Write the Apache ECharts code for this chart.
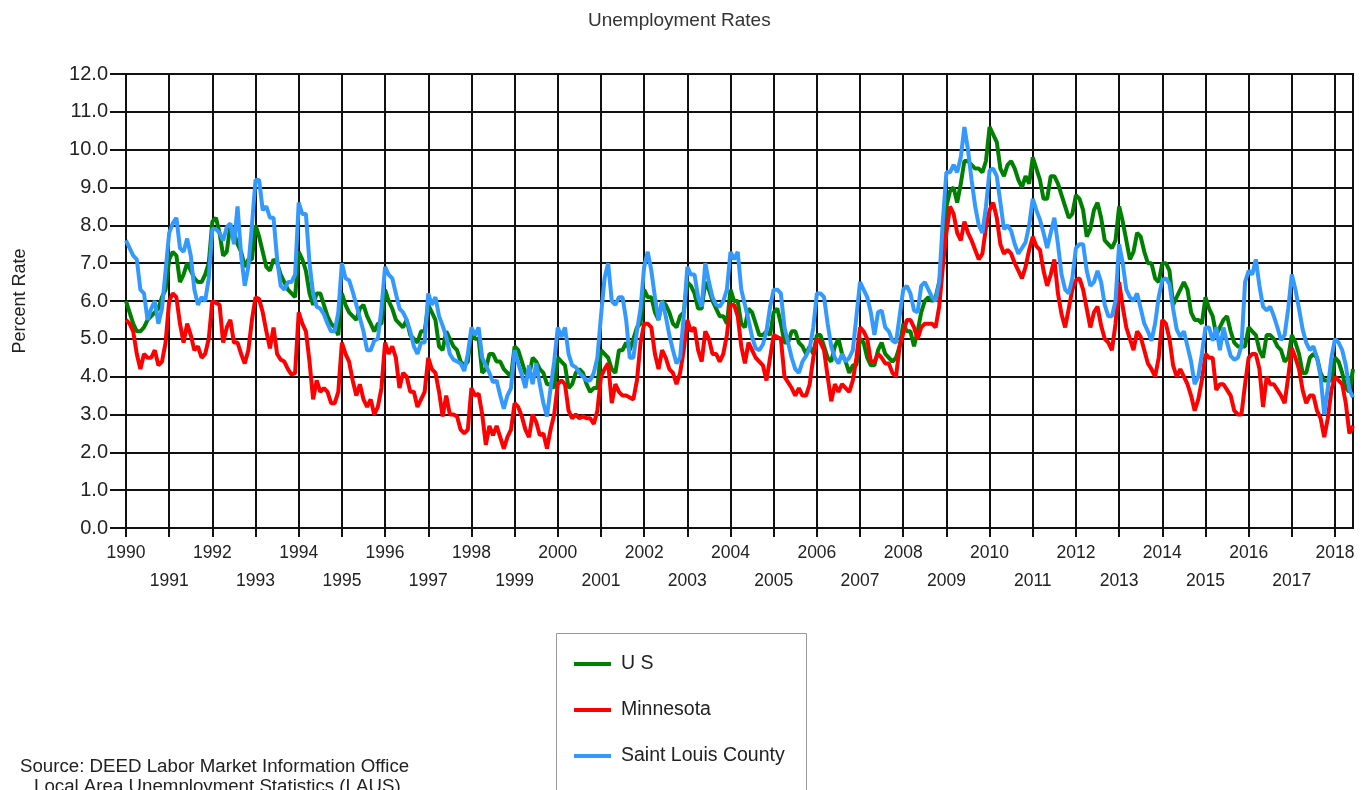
<!DOCTYPE html>
<html>
<head>
<meta charset="utf-8">
<title>Unemployment Rates</title>
<script src="https://cdn.jsdelivr.net/npm/echarts@6/dist/echarts.min.js"></script>
<style>
  html, body { margin: 0; padding: 0; background: #fff; }
  #chart { width: 1369px; height: 790px; }
</style>
</head>
<body>
<div id="chart"></div>
<script>
// monthly unemployment rate, not seasonally adjusted, Jan 1990 - Jun 2018
// one row per year
var usRates = [
  6.0, 5.7, 5.4, 5.2, 5.2, 5.3, 5.5, 5.6, 5.7, 5.8, 6.1, 6.3,
  7.1, 7.3, 7.2, 6.5, 6.7, 7.0, 6.8, 6.6, 6.5, 6.5, 6.7, 7.0,
  8.1, 8.2, 7.8, 7.2, 7.3, 8.0, 7.8, 7.5, 7.3, 6.9, 7.1, 7.1,
  8.0, 7.7, 7.3, 6.9, 6.8, 7.1, 7.0, 6.7, 6.5, 6.3, 6.2, 6.1,
  7.3, 7.1, 6.8, 6.2, 5.9, 6.2, 6.2, 5.9, 5.6, 5.4, 5.3, 5.1,
  6.2, 5.9, 5.7, 5.6, 5.5, 5.8, 5.9, 5.6, 5.4, 5.2, 5.4, 5.4,
  6.3, 6.0, 5.8, 5.5, 5.4, 5.3, 5.5, 5.1, 5.0, 4.9, 5.2, 5.2,
  5.9, 5.7, 5.5, 4.8, 4.7, 5.2, 5.0, 4.8, 4.7, 4.4, 4.3, 4.4,
  5.2, 5.0, 5.0, 4.1, 4.2, 4.6, 4.6, 4.4, 4.4, 4.2, 4.1, 4.0,
  4.8, 4.7, 4.4, 4.1, 4.0, 4.5, 4.4, 4.2, 4.1, 3.8, 3.8, 3.7,
  4.5, 4.4, 4.3, 3.7, 3.8, 4.1, 4.2, 4.1, 3.8, 3.6, 3.7, 3.7,
  4.7, 4.6, 4.5, 4.2, 4.1, 4.7, 4.7, 4.9, 4.7, 5.0, 5.3, 5.4,
  6.3, 6.1, 6.1, 5.7, 5.5, 6.0, 5.9, 5.7, 5.4, 5.3, 5.6, 5.7,
  6.5, 6.4, 6.2, 5.8, 5.8, 6.5, 6.3, 6.0, 5.8, 5.6, 5.6, 5.4,
  6.3, 6.0, 6.0, 5.4, 5.3, 5.8, 5.7, 5.4, 5.1, 5.1, 5.2, 5.1,
  5.7, 5.8, 5.4, 4.9, 4.9, 5.2, 5.2, 4.9, 4.8, 4.6, 4.8, 4.6,
  5.1, 5.1, 4.8, 4.5, 4.4, 4.8, 5.0, 4.6, 4.4, 4.1, 4.3, 4.3,
  5.0, 4.9, 4.5, 4.3, 4.3, 4.7, 4.9, 4.6, 4.5, 4.4, 4.5, 4.8,
  5.4, 5.2, 5.2, 4.8, 5.2, 5.7, 6.0, 6.1, 6.0, 6.1, 6.5, 7.1,
  8.5, 8.9, 9.0, 8.6, 9.1, 9.7, 9.7, 9.6, 9.5, 9.5, 9.4, 9.7,
  10.6, 10.4, 10.2, 9.5, 9.3, 9.6, 9.7, 9.5, 9.2, 9.0, 9.3, 9.1,
  9.8, 9.5, 9.2, 8.7, 8.7, 9.3, 9.3, 9.1, 8.8, 8.5, 8.2, 8.3,
  8.8, 8.7, 8.4, 7.7, 7.9, 8.4, 8.6, 8.2, 7.6, 7.5, 7.4, 7.6,
  8.5, 8.1, 7.6, 7.1, 7.3, 7.8, 7.7, 7.3, 7.0, 7.0, 6.6, 6.5,
  7.0, 7.0, 6.8, 5.9, 6.1, 6.3, 6.5, 6.3, 5.7, 5.5, 5.5, 5.4,
  6.1, 5.8, 5.6, 5.1, 5.3, 5.5, 5.6, 5.2, 4.9, 4.8, 4.8, 4.8,
  5.3, 5.2, 5.1, 4.7, 4.5, 5.1, 5.1, 5.0, 4.8, 4.7, 4.4, 4.5,
  5.1, 4.9, 4.6, 4.1, 4.1, 4.5, 4.6, 4.5, 4.1, 3.9, 3.9, 3.9,
  4.5, 4.4, 4.1, 3.7, 3.6, 4.2
];

var mnRates = [
  5.5, 5.4, 5.2, 4.6, 4.2, 4.6, 4.5, 4.5, 4.7, 4.3, 4.4, 4.9,
  6.0, 6.2, 6.1, 5.4, 4.9, 5.4, 5.1, 4.7, 4.8, 4.5, 4.6, 5.0,
  6.0, 5.95, 5.9, 4.9, 5.3, 5.5, 4.9, 4.9, 4.6, 4.35, 4.7, 5.5,
  6.1, 6.05, 5.7, 5.2, 4.75, 5.3, 4.6, 4.45, 4.4, 4.2, 4.05, 4.1,
  5.7, 5.4, 5.2, 4.4, 3.4, 3.9, 3.6, 3.7, 3.6, 3.3, 3.3, 3.6,
  4.9, 4.6, 4.4, 3.9, 3.5, 3.8, 3.4, 3.2, 3.4, 3.0, 3.2, 3.7,
  4.9, 4.6, 4.8, 4.5, 3.7, 4.1, 4.0, 3.6, 3.6, 3.2, 3.4, 3.6,
  4.5, 4.2, 4.1, 3.6, 2.95, 3.5, 3.0, 3.0, 2.95, 2.6, 2.5, 2.6,
  3.7, 3.5, 3.55, 3.0, 2.2, 2.7, 2.45, 2.7, 2.4, 2.1, 2.4, 2.6,
  3.3, 3.2, 2.95, 2.6, 2.4, 3.0, 2.8, 2.45, 2.5, 2.1, 2.6, 3.0,
  3.8, 3.9, 3.8, 3.1, 2.9, 3.0, 2.9, 2.95, 2.9, 2.9, 2.75, 3.1,
  4.0, 4.2, 4.35, 3.3, 3.8, 3.6, 3.5, 3.5, 3.45, 3.4, 3.9, 4.9,
  5.4, 5.4, 5.3, 4.6, 4.2, 4.7, 4.5, 4.2, 4.1, 3.8, 4.1, 4.7,
  5.5, 5.2, 5.3, 4.7, 4.4, 5.2, 5.0, 4.6, 4.6, 4.4, 4.6, 5.1,
  5.9, 5.9, 5.6, 4.8, 4.35, 4.9, 4.7, 4.5, 4.4, 4.3, 3.9, 4.5,
  5.1, 5.05, 5.0, 4.0, 3.85, 3.7, 3.5, 3.7, 3.5, 3.5, 3.8, 4.5,
  5.0, 4.9, 4.7, 4.0, 3.35, 3.8, 3.6, 3.8, 3.7, 3.6, 3.9, 4.5,
  5.3, 5.2, 5.0, 4.4, 4.4, 4.6, 4.5, 4.35, 4.35, 4.1, 4.0, 4.8,
  5.15, 5.5, 5.5, 5.3, 5.0, 5.3, 5.4, 5.4, 5.4, 5.3, 5.85, 6.9,
  7.8, 8.5, 8.3, 7.8, 7.6, 8.1, 7.8, 7.6, 7.35, 7.1, 7.25, 7.95,
  8.4, 8.6, 8.2, 7.5, 7.25, 7.35, 7.25, 7.0, 6.8, 6.6, 6.9, 7.35,
  7.7, 7.45, 7.35, 6.8, 6.4, 6.7, 7.1, 6.2, 5.65, 5.3, 5.8, 6.3,
  6.55, 6.6, 6.3, 5.8, 5.3, 5.7, 5.85, 5.35, 5.0, 4.9, 4.7, 5.4,
  6.5, 5.85, 5.3, 5.0, 4.7, 5.2, 5.05, 4.7, 4.35, 4.2, 4.0, 4.5,
  5.5, 5.4, 5.0, 4.3, 4.0, 4.2, 4.0, 3.8, 3.5, 3.1, 3.4, 3.9,
  4.6, 4.5, 4.5, 3.65, 3.8, 3.8, 3.65, 3.5, 3.1, 3.0, 3.0, 3.8,
  4.5, 4.6, 4.6, 4.2, 3.2, 4.0, 3.8, 3.8, 3.65, 3.5, 3.3, 4.0,
  4.75, 4.5, 4.2, 3.65, 3.3, 3.5, 3.5, 3.1, 2.9, 2.4, 2.9, 3.65,
  4.0, 3.9, 3.8, 3.3, 2.5, 2.7
];

var stLouisRates = [
  7.6, 7.4, 7.2, 7.1, 6.3, 6.2, 5.5, 5.8, 6.0, 5.4, 5.8, 6.8,
  7.8, 8.05, 8.2, 7.4, 7.3, 7.65, 7.2, 6.3, 5.9, 6.1, 6.0, 6.6,
  7.9, 7.9, 7.8, 7.6, 7.95, 8.05, 7.5, 8.5, 7.2, 6.4, 6.9, 8.0,
  9.2, 9.2, 8.4, 8.5, 8.2, 8.2, 7.1, 6.4, 6.3, 6.5, 6.5, 6.7,
  8.6, 8.3, 8.3, 7.0, 6.2, 5.85, 5.8, 5.65, 5.4, 5.2, 5.2, 5.7,
  7.0, 6.6, 6.55, 6.25, 5.9, 5.55, 5.2, 4.7, 4.7, 4.95, 5.0, 5.8,
  6.9, 6.7, 6.6, 6.2, 5.8, 5.7, 5.5, 5.2, 4.8, 4.6, 4.9, 4.9,
  6.2, 5.9, 6.1, 5.6, 5.35, 5.05, 4.6, 4.45, 4.4, 4.35, 4.15, 4.6,
  5.3, 5.1, 5.3, 4.5, 4.3, 4.1, 3.85, 3.9, 3.5, 3.15, 3.5, 3.7,
  4.7, 4.35, 4.05, 3.7, 4.3, 3.8, 4.35, 3.8, 3.3, 2.95, 3.7, 4.4,
  5.3, 5.05, 5.3, 4.6, 4.3, 4.25, 4.1, 4.0, 3.9, 3.9, 4.1, 4.5,
  5.6, 6.6, 7.0, 6.0, 5.9, 6.1, 6.1, 5.5, 4.5, 4.5, 5.2, 5.8,
  6.9, 7.3, 6.8, 6.1, 5.5, 6.0, 5.6, 5.1, 4.7, 4.35, 4.5, 5.6,
  6.9, 6.7, 6.7, 6.1, 5.85, 7.0, 6.5, 6.1, 5.9, 5.85, 6.0, 6.3,
  7.3, 7.1, 7.3, 6.3, 5.9, 5.5, 5.05, 4.75, 4.7, 4.85, 5.2, 5.85,
  6.3, 6.3, 6.2, 5.3, 4.9, 4.5, 4.2, 4.1, 4.4, 4.55, 4.75, 5.3,
  6.2, 6.2, 6.1, 5.4, 4.8, 4.5, 4.35, 4.6, 4.4, 4.5, 4.7, 5.6,
  6.5, 6.3, 6.1, 5.7, 5.1, 5.7, 5.75, 5.3, 5.2, 4.95, 4.9, 5.6,
  6.3, 6.4, 6.2, 5.75, 5.7, 6.4, 6.5, 6.3, 6.1, 6.0, 6.5, 8.1,
  9.4, 9.4, 9.6, 9.4, 9.8, 10.6, 10.0, 9.2, 8.5, 8.0, 7.8, 8.5,
  9.45, 9.5, 9.3, 8.6, 7.9, 8.0, 7.85, 7.5, 7.25, 7.4, 7.55, 8.0,
  8.7, 8.4, 8.15, 7.8, 7.4, 7.8, 8.2, 7.5, 6.7, 6.3, 6.2, 6.6,
  7.4, 7.5, 7.5, 6.8, 6.4, 6.5, 6.8, 6.5, 5.9, 5.6, 5.6, 6.0,
  7.5, 7.0, 6.3, 6.1, 6.0, 6.2, 5.8, 5.4, 5.2, 4.95, 5.4, 6.1,
  6.55, 6.6, 6.45, 5.8, 5.25, 5.05, 5.2, 4.8, 4.4, 3.8, 4.0, 4.6,
  5.3, 5.3, 4.95, 5.3, 4.7, 5.3, 4.9, 4.55, 4.45, 4.5, 4.8, 6.5,
  6.8, 6.7, 7.1, 6.4, 5.85, 5.75, 5.85, 5.6, 5.3, 4.97, 5.1, 5.8,
  6.7, 6.3, 5.8, 5.25, 4.9, 4.7, 4.8, 4.5, 4.0, 3.0, 3.7, 4.5,
  5.0, 4.9, 4.7, 4.3, 3.65, 3.45
];

var seriesNames = ['U S', 'Minnesota', 'Saint Louis County'];
var seriesColors = ['#008000', '#ff0000', '#3399ff'];
var sourceLines = ['Source: DEED Labor Market Information Office', 'Local Area Unemployment Statistics (LAUS)'];

// month categories '1990-01' ... matching the data length
var months = [];
for (var i = 0; i < usRates.length; i++) {
  var yr = 1990 + Math.floor(i / 12);
  var mo = i % 12 + 1;
  months.push(yr + '-' + (mo < 10 ? '0' + mo : mo));
}

// gridlines, ticks and labels only at January
var yearStart = function (index) { return index % 12 === 0; };

var font = 'Liberation Sans, Arial, sans-serif';
var ink = '#111';
var textColor = '#222';

var chart = echarts.init(document.getElementById('chart'));

var option = {
  animation: false,
  textStyle: { fontFamily: font },
  title: {
    text: 'Unemployment Rates',
    left: 583,
    top: 6,
    textStyle: { fontSize: 19, fontWeight: 'normal', color: '#333' }
  },
  legend: {
    orient: 'vertical',
    left: 569,
    top: 649,
    icon: 'rect',
    itemWidth: 37,
    itemHeight: 4,
    itemGap: 26,
    textStyle: { fontSize: 19.5, lineHeight: 20, color: textColor, padding: [0, 0, 0, 5] },
    data: seriesNames
  },
  grid: {
    left: 126,
    right: 16,
    top: 74,
    bottom: 262,
    show: true,
    borderColor: ink,
    borderWidth: 2
  },
  xAxis: {
    type: 'category',
    data: months,
    boundaryGap: false,
    axisLine: { lineStyle: { color: ink, width: 2 } },
    axisTick: { interval: yearStart, length: 9, lineStyle: { color: ink, width: 2 } },
    axisLabel: {
      interval: yearStart,
      margin: 11,
      fontSize: 17.5,
      lineHeight: 28,
      color: textColor,
      formatter: function (value) {
        var y = parseInt(value.slice(0, 4), 10);
        return y % 2 ? '\n' + y : String(y);
      }
    },
    splitLine: { show: true, interval: yearStart, lineStyle: { color: ink, width: 2 } }
  },
  yAxis: {
    type: 'value',
    min: 0,
    max: 12,
    interval: 1,
    name: 'Percent Rate',
    nameLocation: 'middle',
    nameGap: 97,
    nameTextStyle: { fontSize: 18, color: textColor },
    axisLine: { show: true, lineStyle: { color: ink, width: 2 } },
    axisTick: { show: true, length: 16, lineStyle: { color: ink, width: 2 } },
    axisLabel: {
      margin: 18,
      fontSize: 20,
      color: textColor,
      formatter: function (v) { return v.toFixed(1); }
    },
    splitLine: { lineStyle: { color: ink, width: 2 } }
  },
  series: [usRates, mnRates, stLouisRates].map(function (values, k) {
    return {
      name: seriesNames[k],
      type: 'line',
      data: values,
      showSymbol: false,
      color: seriesColors[k],
      lineStyle: { width: 4, color: seriesColors[k] }
    };
  }),
  graphic: [
    {
      type: 'rect',
      shape: { x: 556.5, y: 633.5, width: 250, height: 200 },
      style: { fill: 'none', stroke: '#999', lineWidth: 1 }
    },
    {
      type: 'text',
      left: 20,
      top: 757,
      style: { text: sourceLines[0], fontSize: 18.7, fill: textColor, fontFamily: font }
    },
    {
      type: 'text',
      left: 34,
      top: 777,
      style: { text: sourceLines[1], fontSize: 18.7, fill: textColor, fontFamily: font }
    }
  ]
};

chart.setOption(option);
</script>
</body>
</html>
